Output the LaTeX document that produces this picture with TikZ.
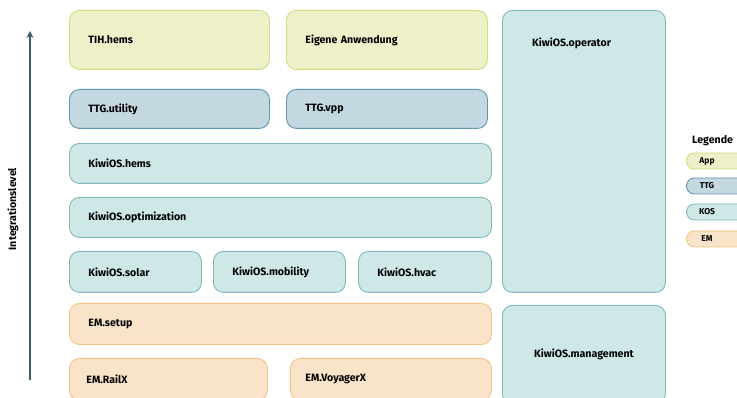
\documentclass[tikz,border=0pt]{standalone}
\usepackage{fontspec}
\setmainfont{Fira Sans}
\usetikzlibrary{arrows.meta}

\definecolor{appfill}{HTML}{EEF0CA}
\definecolor{appline}{HTML}{D3DC7E}
\definecolor{ttgfill}{HTML}{C4D8E1}
\definecolor{ttgline}{HTML}{6096B0}
\definecolor{kosfill}{HTML}{CEE7E7}
\definecolor{kosline}{HTML}{80B8BC}
\definecolor{emfill}{HTML}{F9E4CA}
\definecolor{emline}{HTML}{F2C480}
\definecolor{levelline}{HTML}{3E5B70}

\begin{document}
\begin{tikzpicture}[x=1pt, y=-1pt,
    boxfont/.style={font=\bfseries\fontsize{10.6}{12}\selectfont},
    box/.style 2 args={draw=#1line, fill=#1fill, line width=0.9pt, rounded corners=10pt,
        anchor=north west, inner xsep=19pt, text width=#2pt, align=left, boxfont},
    pill/.style={draw=#1line, fill=#1fill, line width=0.9pt, rounded corners=8pt,
        anchor=west, minimum width=70, minimum height=16, inner sep=0pt},
    pilltext/.style={font=\bfseries\fontsize{8.5}{9}\selectfont, inner sep=0pt, anchor=center, xshift=21pt}]
    \useasboundingbox (0,0) rectangle (737,398);

    % apps
    \node[box={app}{162}, minimum height=59] (tih) at (69,10) {TIH.hems};
    \node[box={app}{163}, minimum height=59] (eigene) at (286,10) {Eigene Anwendung};
    % ttg
    \node[box={ttg}{162}, minimum height=39] (utility) at (69,89) {TTG.utility};
    \node[box={ttg}{163}, minimum height=39] (vpp) at (286,89) {TTG.vpp};
    % kiwiOS
    \node[box={kos}{384}, minimum height=40] (hems) at (69,143) {KiwiOS.hems};
    \node[box={kos}{384}, minimum height=40] (optimization) at (69,197) {KiwiOS.optimization};
    \node[box={kos}{94}, minimum height=41] (solar) at (69,251) {KiwiOS.solar};
    \node[box={kos}{94}, minimum height=41] (mobility) at (213,251) {KiwiOS.mobility};
    \node[box={kos}{95}, minimum height=41] (hvac) at (358,251) {KiwiOS.hvac};
    % EM
    \node[box={em}{384}, minimum height=41] (setup) at (69,303) {EM.setup};
    \node[box={em}{164}, minimum height=42, inner xsep=17pt] (railx) at (69,358) {EM.RailX};
    \node[box={em}{171}, minimum height=42, inner xsep=15pt] (voyagerx) at (290,358) {EM.VoyagerX};
    % right column
    \node[box={kos}{125}, minimum height=282] (operator) at (502,10) {};
    \node[boxfont, anchor=west, inner sep=0pt] (operatorlabel) at (532,43) {KiwiOS.operator};
    \node[box={kos}{125}, minimum height=98, align=center] (management) at (502,305) {KiwiOS.management};

    % level arrow
    \coordinate (levelbottom) at (30,380);
    \coordinate (leveltop) at (30,31);
    \draw[levelline, line width=1.2pt, -{Stealth[length=7pt,width=7pt]}] (levelbottom) -- (leveltop);
    \node[boxfont, rotate=90] (level) at (13,209) {Integrationslevel};

    % legend
    \node[boxfont, anchor=west, inner sep=0pt] (legende) at (692,141) {Legende};
    \node[pill=app, label={[pilltext]west:App}] (legapp) at (686,161) {};
    \node[pill=ttg, label={[pilltext]west:TTG}] (legttg) at (686,186) {};
    \node[pill=kos, label={[pilltext]west:KOS}] (legkos) at (686,212) {};
    \node[pill=em, label={[pilltext]west:EM}] (legem) at (686,239) {};
\end{tikzpicture}
\end{document}
